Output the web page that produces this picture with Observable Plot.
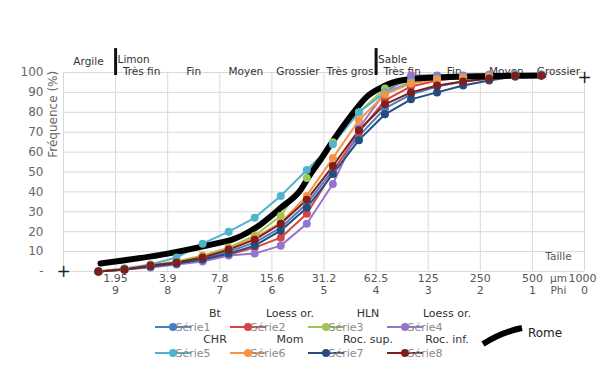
<!DOCTYPE html>
<html><head><meta charset="utf-8">
<script src="https://cdn.jsdelivr.net/npm/d3@7"></script>
<script src="https://cdn.jsdelivr.net/npm/@observablehq/plot@0.6"></script>
<style>body{margin:0;background:#fff} svg{display:block}</style>
</head><body><div id="chart"></div>
<script>
// x positions of the sampled points (phi units)
const phiPos = [9.33, 8.83, 8.33, 7.83, 7.33, 6.83, 6.33, 5.83, 5.33, 4.83, 4.33, 3.83, 3.33, 2.83, 2.33, 1.83, 1.33, 0.83];
// cumulative frequency (%) for each series
const serie1 = [0, 1, 2.5, 4, 6.5, 10, 14.5, 22, 34, 51, 68, 82, 89, 93, 95.5, 97, 98, 98.5];
const serie2 = [0, 1, 2.5, 4, 6, 8.5, 12, 17, 29, 50, 70, 86, 93, 96, 97.5, 98, 98.5, 98.5];
const serie3 = [0, 1.5, 3, 5, 8, 12, 18, 28, 47, 65, 80, 92, 96, 97.5, 98, 98.5, 99, 99];
const serie4 = [0, 1, 2, 3.5, 5, 8, 9, 13, 24, 44, 72, 90, 98.5, 98.5, 98.5, 99, 99, 99];
const serie5 = [0, 1.5, 3.5, 7, 14, 20, 27, 38, 51, 64, 80, 90, 95, 97, 98, 98.5, 99, 99];
const serie6 = [0, 1, 3, 4.5, 7.5, 11.5, 17, 24.5, 38, 57, 76, 89, 94.5, 96.5, 97.5, 98, 98.5, 98.5];
const serie7 = [0, 1, 2.5, 4, 6, 9, 13, 20.5, 32, 49, 66, 79, 86.5, 90, 93.5, 96, 98, 98.5];
const serie8 = [0, 1, 3, 4.5, 7, 11, 16, 24, 36, 53, 71, 84, 90, 93.5, 95.5, 97, 98.5, 98.5];
const seriesNames = ["Série1", "Série2", "Série3", "Série4", "Série5", "Série6", "Série7", "Série8"];
const seriesLabels = ["Bt", "Loess or.", "HLN", "Loess or.", "CHR", "Mom", "Roc. sup.", "Roc. inf."];
const seriesColors = ["#4A7CC4", "#D5443E", "#9CC653", "#9673CC", "#4FB3CC", "#F79443", "#234D7E", "#7C1F1D"];
// "Rome" reference curve
const romePhi = [9.29, 8.0, 7.0, 6.79, 6.31, 5.83, 5.45, 5.26, 5.07, 4.82, 4.49, 4.17, 3.86, 3.53, 2.9, 0.79];
const romePct = [4, 9, 14.5, 15.8, 22, 32, 41, 49, 56, 66, 78, 88, 93, 96, 97.5, 98.5];
// axes
const phiTicks = [9, 8, 7, 6, 5, 4, 3, 2, 1, 0];
const sizeLabels = ["1.95", "3.9", "7.8", "15.6", "31.2", "62.5", "125", "250", "500", "1000"];
const phiLabels = ["9", "8", "7", "6", "5", "4", "3", "2", "1", "0"];
const yTicks = [0, 10, 20, 30, 40, 50, 60, 70, 80, 90, 100];
const gridPhi = [10, 9, 8, 7, 6, 5, 4, 3, 2, 1, 0];
// grain-size classes
const bandCenters = [8.5, 7.5, 6.5, 5.5, 4.5, 3.5, 2.5, 1.5, 0.5];
const bandNames = ["Très fin", "Fin", "Moyen", "Grossier", "Très gros", "Très fin", "Fin", "Moyen", "Grossier"];
const classNames = ["Limon", "Sable"];
const classPhi = [9, 4];

const allSeries = [serie1, serie2, serie3, serie4, serie5, serie6, serie7, serie8];
const long = [];
allSeries.forEach((vals, s) => vals.forEach((v, i) => long.push({name: seriesNames[s], phi: phiPos[i], pct: v})));
const rome = romePhi.map((p, i) => ({phi: p, pct: romePct[i]}));

const FONT = "DejaVu Sans";
const plot = Plot.plot({
  width: 598, height: 367,
  marginLeft: 63, marginRight: 14, marginTop: 72, marginBottom: 96,
  style: {fontFamily: FONT, fontSize: "12px", color: "#595959", background: "white", overflow: "visible"},
  x: {domain: [10, 0], axis: null},
  y: {domain: [0, 100], axis: null},
  color: {domain: seriesNames, range: seriesColors},
  marks: [
    Plot.ruleX(gridPhi, {stroke: "#d9d9d9", strokeWidth: 1}),
    Plot.ruleY(yTicks, {stroke: "#d9d9d9", strokeWidth: 1}),
    Plot.axisY(yTicks, {tickSize: 0, tickPadding: 20, tickFormat: d => d === 0 ? "-" : d, label: null, fontSize: 12, fill: "#666"}),
    Plot.text(["Fréquence (%)"], {x: 10, y: 79, dx: -10, rotate: -90, fontSize: 12, fill: "#666"}),
    Plot.text(phiTicks, {x: d => d, text: (d, i) => sizeLabels[i], dx: (0), frameAnchor: "bottom", dy: 10, fontSize: 11, fill: "#555", filter: d => d !== 0}),
    Plot.text(phiTicks, {x: d => d, text: (d, i) => phiLabels[i], frameAnchor: "bottom", dy: 22, fontSize: 11, fill: "#555"}),
    Plot.text(["1000"], {x: 0, frameAnchor: "bottom", dy: 10, dx: -2, fontSize: 11, fill: "#555"}),
    Plot.text(["µm"], {x: 0.5, frameAnchor: "bottom", dy: 10, fontSize: 10.5, fill: "#555"}),
    Plot.text(["Phi"], {x: 0.5, frameAnchor: "bottom", dy: 22, fontSize: 10.5, fill: "#555"}),
    Plot.text(["Taille"], {x: 0.5, y: 7.5, fontSize: 10.5, fill: "#555"}),
    Plot.text(["+"], {x: 10, y: 0, fontSize: 17, fill: "#222"}),
    Plot.text(["+"], {x: 0, y: 97.5, fontSize: 17, fill: "#222"}),
    Plot.ruleX(classPhi, {y1: 98.5, y2: 112, stroke: "#111", strokeWidth: 3}),
    Plot.text(classNames, {x: (d, i) => classPhi[i], text: d => d, frameAnchor: "top", dy: -17, dx: 2, textAnchor: "start", fontSize: 10.5, fill: "#333"}),
    Plot.text(["Argile"], {x: 9.52, frameAnchor: "top", dy: -15, fontSize: 10.5, fill: "#333"}),
    Plot.text(bandNames, {x: (d, i) => bandCenters[i], text: d => d, frameAnchor: "top", dy: -5, fontSize: 10.5, fill: "#333"}),
    Plot.line(long, {x: "phi", y: "pct", z: "name", stroke: "name", strokeWidth: 2}),
    Plot.line(rome, {x: "phi", y: "pct", stroke: "#000", strokeWidth: 6, curve: "monotone-x"}),
    Plot.dot(long, {x: "phi", y: "pct", fill: "name", r: 4})
  ]
});
document.getElementById("chart").appendChild(plot);

// legend (drawn inside the svg below the plot)
const svg = d3.select(plot.tagName.toLowerCase() === "svg" ? plot : plot.querySelector("svg"));
const lg = svg.append("g").attr("font-family", FONT);
const colX = [155, 230, 308, 387];
const rowY = [327, 353];
seriesNames.forEach((n, i) => {
  const x = colX[i % 4], y = rowY[Math.floor(i / 4)];
  lg.append("line").attr("x1", x).attr("x2", x + 36).attr("y1", y).attr("y2", y)
    .attr("stroke", seriesColors[i]).attr("stroke-width", 2);
  lg.append("circle").attr("cx", x + 18).attr("cy", y).attr("r", 4).attr("fill", seriesColors[i]);
  lg.append("text").attr("x", x + 38).attr("y", y).attr("dy", "0.35em")
    .attr("font-size", 11).attr("fill", "#8a8a8a").text(n);
  lg.append("text").attr("x", x + 60).attr("y", y - 14).attr("dy", "0.35em")
    .attr("text-anchor", "middle").attr("font-size", 11).attr("fill", "#333").text(seriesLabels[i]);
});
lg.append("path").attr("d", "M483,344 Q502,332 522,328").attr("fill", "none")
  .attr("stroke", "#000").attr("stroke-width", 6);
lg.append("text").attr("x", 545).attr("y", 333).attr("dy", "0.35em")
  .attr("font-size", 12).attr("fill", "#222").text("Rome");
</script>
</body></html>
